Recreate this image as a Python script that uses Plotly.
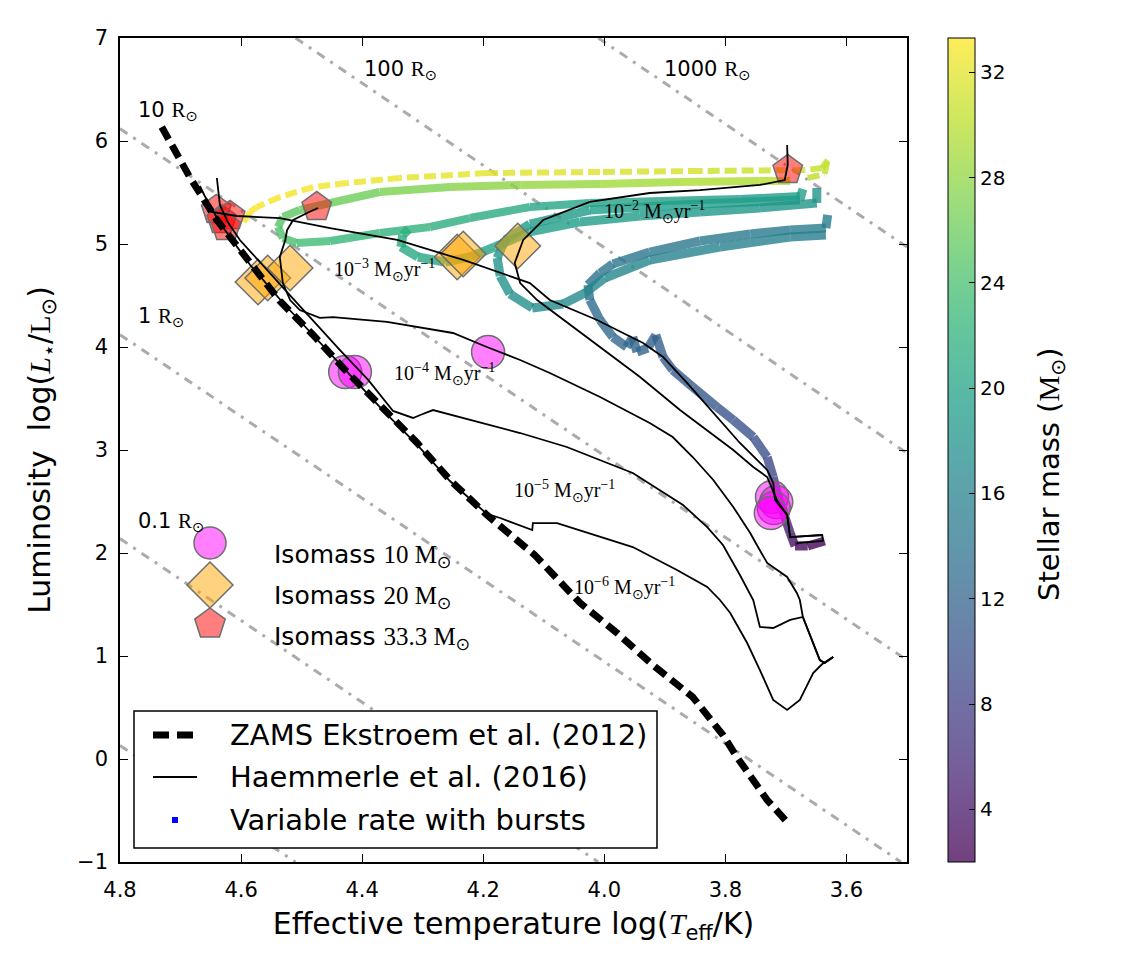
import math
import plotly.graph_objects as go
from plotly.colors import sample_colorscale, unlabel_rgb

# ------------------------------------------------------------------ data
# ZAMS (Ekstroem et al. 2012): log Teff, log L
ZAMS_T = [4.731, 4.684, 4.640, 4.590, 4.536, 4.481, 4.425, 4.366, 4.309, 4.255, 4.194,
          4.115, 4.040, 3.979, 3.920, 3.854, 3.829, 3.804, 3.781, 3.754, 3.731, 3.698]
ZAMS_L = [6.136, 5.641, 5.233, 4.864, 4.447, 4.117, 3.757, 3.408, 3.068, 2.709, 2.369,
          1.981, 1.515, 1.223, 0.913, 0.602, 0.427, 0.233, 0.019, -0.204, -0.398, -0.612]

# Haemmerle et al. (2016) constant-rate tracks
H6_T = [3.622, 3.640, 3.655, 3.677, 3.698, 3.721, 3.743, 3.764, 3.792, 3.809, 3.830, 3.880,
        3.953, 4.078, 4.118, 4.119, 4.172, 4.194, 4.255, 4.309, 4.366, 4.420, 4.478, 4.532,
        4.585, 4.635, 4.660, 4.668]
H6_L = [0.990, 0.922, 0.835, 0.573, 0.476, 0.573, 0.864, 1.126, 1.417, 1.544, 1.670, 1.835,
        2.058, 2.291, 2.291, 2.223, 2.340, 2.379, 2.699, 3.049, 3.388, 3.728, 4.097, 4.437,
        4.796, 5.204, 5.466, 5.563]
H5_T = [3.622, 3.636, 3.644, 3.655, 3.672, 3.693, 3.721, 3.743, 3.754, 3.776, 3.804, 3.830,
        3.870, 3.953, 4.062, 4.139, 4.283, 4.304, 4.316, 4.349, 4.390, 4.437, 4.486, 4.527,
        4.569, 4.602, 4.622, 4.635, 4.640]
H5_L = [0.990, 0.932, 0.961, 1.126, 1.379, 1.350, 1.272, 1.282, 1.544, 1.786, 2.078, 2.252,
        2.466, 2.777, 3.029, 3.165, 3.388, 3.340, 3.311, 3.379, 3.680, 3.971, 4.282, 4.553,
        4.825, 5.039, 5.214, 5.379, 5.641]
H4_T = [3.622, 3.636, 3.644, 3.655, 3.672, 3.677, 3.682, 3.698, 3.731, 3.748, 3.759, 3.787,
        3.820, 3.854, 3.887, 3.925, 4.007, 4.090, 4.139, 4.194, 4.250, 4.359, 4.448, 4.470,
        4.503, 4.519, 4.531, 4.536, 4.532, 4.527, 4.524, 4.514, 4.491, 4.473]
H4_L = [0.990, 0.932, 0.961, 1.126, 1.379, 1.544, 1.612, 1.767, 1.903, 2.078, 2.194, 2.447,
        2.709, 2.932, 3.126, 3.262, 3.515, 3.748, 3.874, 4.000, 4.136, 4.243, 4.291, 4.282,
        4.359, 4.456, 4.621, 4.874, 4.942, 5.039, 5.136, 5.233, 5.301, 5.350]
H3_T = [3.682, 3.639, 3.640, 3.693, 3.698, 3.718, 3.721, 3.731, 3.776, 3.820, 3.863, 3.903,
        3.936, 4.012, 4.090, 4.123, 4.233, 4.342, 4.453, 4.536, 4.607, 4.656]
H3_L = [2.097, 2.117, 2.175, 2.155, 2.369, 2.515, 2.680, 2.806, 3.068, 3.359, 3.650, 3.903,
        4.039, 4.262, 4.456, 4.621, 4.845, 5.039, 5.155, 5.252, 5.272, 5.320]
H2_T = [3.640, 3.693, 3.698, 3.715, 3.731, 3.754, 3.787, 3.830, 3.875, 3.941, 4.007, 4.068,
        4.111, 4.139, 4.148, 4.134, 4.101, 4.024, 3.925, 3.842, 3.743, 3.702, 3.697, 3.698]
H2_L = [2.175, 2.155, 2.369, 2.515, 2.738, 2.835, 3.000, 3.194, 3.388, 3.709, 4.000, 4.262,
        4.456, 4.621, 4.816, 5.039, 5.233, 5.408, 5.495, 5.524, 5.573, 5.621, 5.767, 5.961]

# Variable accretion rate with bursts: log Teff, log L, stellar mass
VA_T = [3.636, 3.664, 3.685, 3.693, 3.703, 3.713, 3.721, 3.731, 3.754, 3.787, 3.814, 3.854,
        3.887, 3.903, 3.915, 3.928, 3.946, 3.953, 3.963, 3.986, 4.007, 4.024, 4.027, 4.007,
        3.986, 3.925, 3.842, 3.759, 3.693, 3.634, 3.631]
VA_L = [2.117, 2.068, 2.068, 2.194, 2.369, 2.544, 2.738, 2.932, 3.126, 3.291, 3.417, 3.612,
        3.777, 3.903, 4.117, 3.990, 3.951, 4.097, 4.000, 4.097, 4.262, 4.456, 4.602, 4.718,
        4.806, 4.922, 5.029, 5.097, 5.136, 5.155, 5.282]
VA_M = [2.0, 2.6, 3.2, 4.0, 5.5, 7.0, 8.5, 9.3, 9.9, 10.3, 10.6, 10.9, 11.2, 11.4, 11.6, 11.8,
        12.0, 12.1, 12.2, 12.5, 12.8, 13.1, 13.4, 13.7, 14.0, 14.3, 14.6, 14.8, 15.0, 15.2, 15.3]
VB_T = [3.634, 3.693, 3.809, 3.925, 3.999, 4.032, 4.068, 4.119, 4.156, 4.172, 4.177, 4.164,
        4.123, 4.024, 3.842, 3.677, 3.672]
VB_L = [5.087, 5.068, 4.971, 4.845, 4.670, 4.524, 4.417, 4.379, 4.515, 4.689, 4.864, 5.039,
        5.194, 5.330, 5.388, 5.427, 5.534]
VB_M = [15.4, 15.6, 15.9, 16.2, 16.5, 16.8, 17.1, 17.4, 17.7, 18.0, 18.3, 18.6, 18.9, 19.2,
        19.5, 19.7, 19.8]
VC_T = [3.649, 3.649, 3.743, 3.842, 3.941, 4.040, 4.123, 4.181, 4.222, 4.263, 4.308, 4.336,
        4.333, 4.323]
VC_L = [5.544, 5.398, 5.350, 5.311, 5.272, 5.214, 5.117, 4.971, 4.874, 4.825, 4.874, 4.971,
        5.087, 5.146]
VC_M = [18.0, 18.2, 18.5, 18.8, 19.1, 19.4, 19.7, 20.0, 20.3, 20.5, 20.7, 20.9, 21.0, 21.1]
VD_T = [3.677, 3.776, 3.908, 4.024, 4.123, 4.222, 4.288, 4.371, 4.453, 4.508, 4.531, 4.539,
        4.531, 4.503, 4.453, 4.371, 4.255, 4.139, 4.007, 3.875, 3.743, 3.693]
VD_L = [5.466, 5.437, 5.417, 5.398, 5.359, 5.252, 5.165, 5.107, 5.029, 5.010, 5.058, 5.165,
        5.262, 5.330, 5.398, 5.505, 5.553, 5.573, 5.583, 5.602, 5.612, 5.612]
VD_M = [19.0, 19.3, 19.7, 20.1, 20.6, 21.2, 21.8, 22.5, 23.2, 23.8, 24.2, 24.6, 25.0, 25.5,
        26.0, 26.7, 27.4, 28.0, 28.6, 29.2, 29.8, 30.0]
VE_T = [3.664, 3.636, 3.631, 3.640, 3.669, 3.842, 4.007, 4.194, 4.338, 4.425, 4.481, 4.536,
        4.574, 4.585, 4.597]
VE_L = [5.641, 5.680, 5.816, 5.738, 5.718, 5.709, 5.699, 5.689, 5.641, 5.592, 5.553, 5.456,
        5.359, 5.311, 5.204]
VE_M = [30.3, 30.4, 30.5, 30.6, 30.8, 31.2, 31.6, 32.0, 32.4, 32.7, 32.9, 33.0, 33.1, 33.2, 33.3]

# Isomass points
ISO10_T = [4.428, 4.412, 4.192, 3.723, 3.716, 3.720, 3.725]
ISO10_L = [3.757, 3.757, 3.951, 2.544, 2.495, 2.437, 2.388]
ISO20_T = [4.243, 4.233, 4.143, 4.572, 4.556, 4.519]
ISO20_L = [4.874, 4.903, 4.981, 4.631, 4.670, 4.767]
ISO33_T = [4.475, 3.697, 4.641, 4.632, 4.618, 4.625]
ISO33_L = [5.359, 5.718, 5.330, 5.233, 5.272, 5.165]

# Iso-radius lines (end points)
RADII = ["0.01", "0.1", "1", "10", "100", "1000"]
RAD_T = [[4.80, 4.51], [4.80, 4.01], [4.80, 3.51], [4.80, 3.50], [4.51, 3.50], [4.01, 3.50]]
RAD_L = [[0.13, -1.0], [2.14, -1.0], [4.12, -1.0], [6.12, 0.96], [7.0, 2.97], [7.0, 4.97]]

# Text labels
RAD_LABELS = ["100", "1000", "10", "1", "0.1"]
RAD_LABEL_T = [4.400, 3.905, 4.774, 4.774, 4.774]
RAD_LABEL_L = [6.689, 6.689, 6.291, 4.291, 2.301]
RATE_EXP = ["2", "3", "4", "5", "6"]
RATE_LABEL_T = [4.004, 4.450, 4.351, 4.153, 4.053]
RATE_LABEL_L = [5.311, 4.748, 3.738, 2.602, 1.660]

X_TICKS = [4.8, 4.6, 4.4, 4.2, 4.0, 3.8, 3.6]
CB_TICKS = [4, 8, 12, 16, 20, 24, 28, 32]
CMIN, CMAX = 2.0, 33.3

# ------------------------------------------------------------------ helpers
SERIF = "font-family:Liberation Serif"
SUN = "⊙"

def xp(px):
    return (px - 120) / 787.0

def yp(py):
    return (862 - py) / 824.0

faded = []
for v in [i / 20 for i in range(21)]:
    r, g, b = unlabel_rgb(sample_colorscale("Viridis", [v])[0])
    faded.append([v, "rgba(%d,%d,%d,0.75)" % (r, g, b)])

fig = go.Figure()

# iso-radius lines
for t, l in zip(RAD_T, RAD_L):
    fig.add_trace(go.Scatter(x=t, y=l, mode="lines",
                             line=dict(color="#ababab", width=3, dash="9px,7px,3px,7px"),
                             showlegend=False, hoverinfo="skip"))

# variable-rate tracks, coloured by mass
def add_strand(T, L, M, dash=None, width=8):
    for i in range(len(T) - 1):
        mm = 0.5 * (M[i] + M[i + 1])
        c = sample_colorscale("Viridis", [(mm - CMIN) / (CMAX - CMIN)])[0]
        fig.add_trace(go.Scatter(x=T[i:i + 2], y=L[i:i + 2], mode="lines",
                                 line=dict(color=c, width=width, dash=dash),
                                 opacity=0.8, showlegend=False, hoverinfo="skip"))

add_strand(VA_T, VA_L, VA_M, width=9)
add_strand(VB_T, VB_L, VB_M, width=9)
add_strand(VC_T, VC_L, VC_M, width=9)
add_strand(VD_T, VD_L, VD_M, width=8)
add_strand(VE_T, VE_L, VE_M, dash="12px,5px", width=6)

# colour bar carrier
fig.add_trace(go.Scatter(
    x=[None], y=[None], mode="markers", showlegend=False, hoverinfo="skip",
    marker=dict(color=[CMIN], colorscale=faded, cmin=CMIN, cmax=CMAX, showscale=True,
                colorbar=dict(x=xp(948), xanchor="left", xpad=0, ypad=0, y=0.5, yanchor="middle",
                              len=1, lenmode="fraction", thickness=27, thicknessmode="pixels",
                              outlinecolor="black", outlinewidth=1, ticks="inside", ticklen=6,
                              tickcolor="black", tickvals=CB_TICKS, tickprefix="\u00a0",
                              tickfont=dict(size=20, color="black")))))

# isomass markers
fig.add_trace(go.Scatter(x=ISO10_T, y=ISO10_L, mode="markers", showlegend=False, hoverinfo="skip",
                         marker=dict(symbol="circle", size=33, color="rgba(255,0,255,0.5)",
                                     line=dict(color="#6e6e6e", width=1.5))))
fig.add_trace(go.Scatter(x=ISO20_T, y=ISO20_L, mode="markers", showlegend=False, hoverinfo="skip",
                         marker=dict(symbol="diamond", size=35, color="rgba(255,165,0,0.5)",
                                     line=dict(color="#6e6e6e", width=1.5))))
fig.add_trace(go.Scatter(x=ISO33_T, y=ISO33_L, mode="markers", showlegend=False, hoverinfo="skip",
                         marker=dict(symbol="pentagon", size=31, color="rgba(255,0,0,0.5)",
                                     line=dict(color="#6e6e6e", width=1.5))))

# Haemmerle tracks
for t, l in [(H6_T, H6_L), (H5_T, H5_L), (H4_T, H4_L), (H3_T, H3_L), (H2_T, H2_L)]:
    fig.add_trace(go.Scatter(x=t, y=l, mode="lines", line=dict(color="black", width=1.8),
                             showlegend=False, hoverinfo="skip"))

# ZAMS
fig.add_trace(go.Scatter(x=ZAMS_T, y=ZAMS_L, mode="lines",
                         line=dict(color="black", width=7, dash="14px,7px"),
                         showlegend=False, hoverinfo="skip"))

annotations = []
# radius labels
for lab, t, l in zip(RAD_LABELS, RAD_LABEL_T, RAD_LABEL_L):
    annotations.append(dict(x=t, y=l, xref="x", yref="y", xanchor="left", yanchor="middle",
                            showarrow=False, font=dict(size=21, color="black"),
                            text="%s <span style=\"%s\">R</span><sub>%s</sub>" % (lab, SERIF, SUN)))
# rate labels
for e, t, l in zip(RATE_EXP, RATE_LABEL_T, RATE_LABEL_L):
    annotations.append(dict(x=t, y=l, xref="x", yref="y", xanchor="left", yanchor="middle",
                            showarrow=False,
                            font=dict(size=20, color="black", family="Liberation Serif"),
                            text="10<sup>\u2212%s</sup> M<sub>%s</sub>yr<sup>\u22121</sup>" % (e, SUN)))

# colour bar title
annotations.append(dict(x=xp(1051), y=yp(474), xref="paper", yref="paper", xanchor="center",
                        yanchor="middle", textangle=-90, showarrow=False,
                        font=dict(size=29, color="black"),
                        text="Stellar mass (<span style=\"%s\">M</span><sub>%s</sub>)" % (SERIF, SUN)))

# isomass legend (glyphs drawn as shapes)
shapes = []
glyph_line = dict(color="#6e6e6e", width=1.5)
shapes.append(dict(type="circle", xref="paper", yref="paper", x0=xp(194), x1=xp(226),
                   y0=yp(559), y1=yp(527), fillcolor="rgba(255,0,255,0.5)", line=glyph_line,
                   layer="above"))
cx, cy, hd = 210, 585, 23
dpath = "M%f,%f L%f,%f L%f,%f L%f,%f Z" % (xp(cx), yp(cy - hd), xp(cx + hd), yp(cy),
                                         xp(cx), yp(cy + hd), xp(cx - hd), yp(cy))
shapes.append(dict(type="path", xref="paper", yref="paper", path=dpath,
                   fillcolor="rgba(255,165,0,0.5)", line=glyph_line, layer="above"))
cx, cy, R = 210, 624, 16
pts = []
for k in range(5):
    a = math.radians(90 - 72 * k)
    pts.append((xp(cx + R * math.cos(a)), yp(cy - R * math.sin(a))))
ppath = "M" + " L".join("%f,%f" % p for p in pts) + " Z"
shapes.append(dict(type="path", xref="paper", yref="paper", path=ppath,
                   fillcolor="rgba(255,0,0,0.5)", line=glyph_line, layer="above"))
for val, py in [("10", 556), ("20", 597), ("33.3", 638)]:
    annotations.append(dict(x=xp(272), y=yp(py), xref="paper", yref="paper", xanchor="left",
                            yanchor="middle", showarrow=False, font=dict(size=25, color="black"),
                            text="Isomass <span style=\"%s\">%s M</span><sub>%s</sub>" % (SERIF, val, SUN)))

# framed legend
shapes.append(dict(type="rect", xref="paper", yref="paper", x0=xp(134), x1=xp(657),
                   y0=yp(848), y1=yp(711), fillcolor="white",
                   line=dict(color="black", width=1.5), layer="above"))
shapes.append(dict(type="line", xref="paper", yref="paper", x0=xp(153), x1=xp(193),
                   y0=yp(735), y1=yp(735), line=dict(color="black", width=7, dash="16px,8px"),
                   layer="above"))
shapes.append(dict(type="line", xref="paper", yref="paper", x0=xp(153), x1=xp(197),
                   y0=yp(777), y1=yp(777), line=dict(color="black", width=1.8), layer="above"))
shapes.append(dict(type="rect", xref="paper", yref="paper", x0=xp(172), x1=xp(178),
                   y0=yp(823), y1=yp(817), fillcolor="blue", line=dict(width=0), layer="above"))
for txt, py in [("ZAMS Ekstroem et al. (2012)", 735), ("Haemmerle et al. (2016)", 777),
                ("Variable rate with bursts", 820)]:
    annotations.append(dict(x=xp(228), y=yp(py), xref="paper", yref="paper", xanchor="left",
                            yanchor="middle", showarrow=False, font=dict(size=29, color="black"),
                            text=txt))

axis_common = dict(showline=True, linecolor="black", linewidth=1.5, mirror="ticks",
                   ticks="inside", ticklen=8, tickwidth=1, tickcolor="black",
                   showgrid=False, zeroline=False, tickfont=dict(size=21, color="black"))

fig.update_layout(
    width=1125, height=975,
    margin=dict(l=120, r=218, t=38, b=113),
    plot_bgcolor="white", paper_bgcolor="white",
    font=dict(family="DejaVu Sans", color="black"),
    showlegend=False,
    shapes=shapes, annotations=annotations,
    xaxis=dict(range=[4.8, 3.5], tickvals=X_TICKS, tickformat=".1f", ticklabelstandoff=8,
               title=dict(text="Effective temperature log(<span style=\"%s\"><i>T</i></span><sub>eff</sub>/K)" % SERIF,
                          font=dict(size=30), standoff=12),
               **axis_common),
    yaxis=dict(range=[-1, 7], dtick=1, tick0=0, ticklabelstandoff=6,
               title=dict(text="Luminosity\u00a0 log(<span style=\"%s\"><i>L</i></span><sub>\u22c6</sub>/<span style=\"%s\">L</span><sub>%s</sub>)" % (SERIF, SERIF, SUN),
                          font=dict(size=30), standoff=18),
               **axis_common),
)

fig.write_html("out.html")
